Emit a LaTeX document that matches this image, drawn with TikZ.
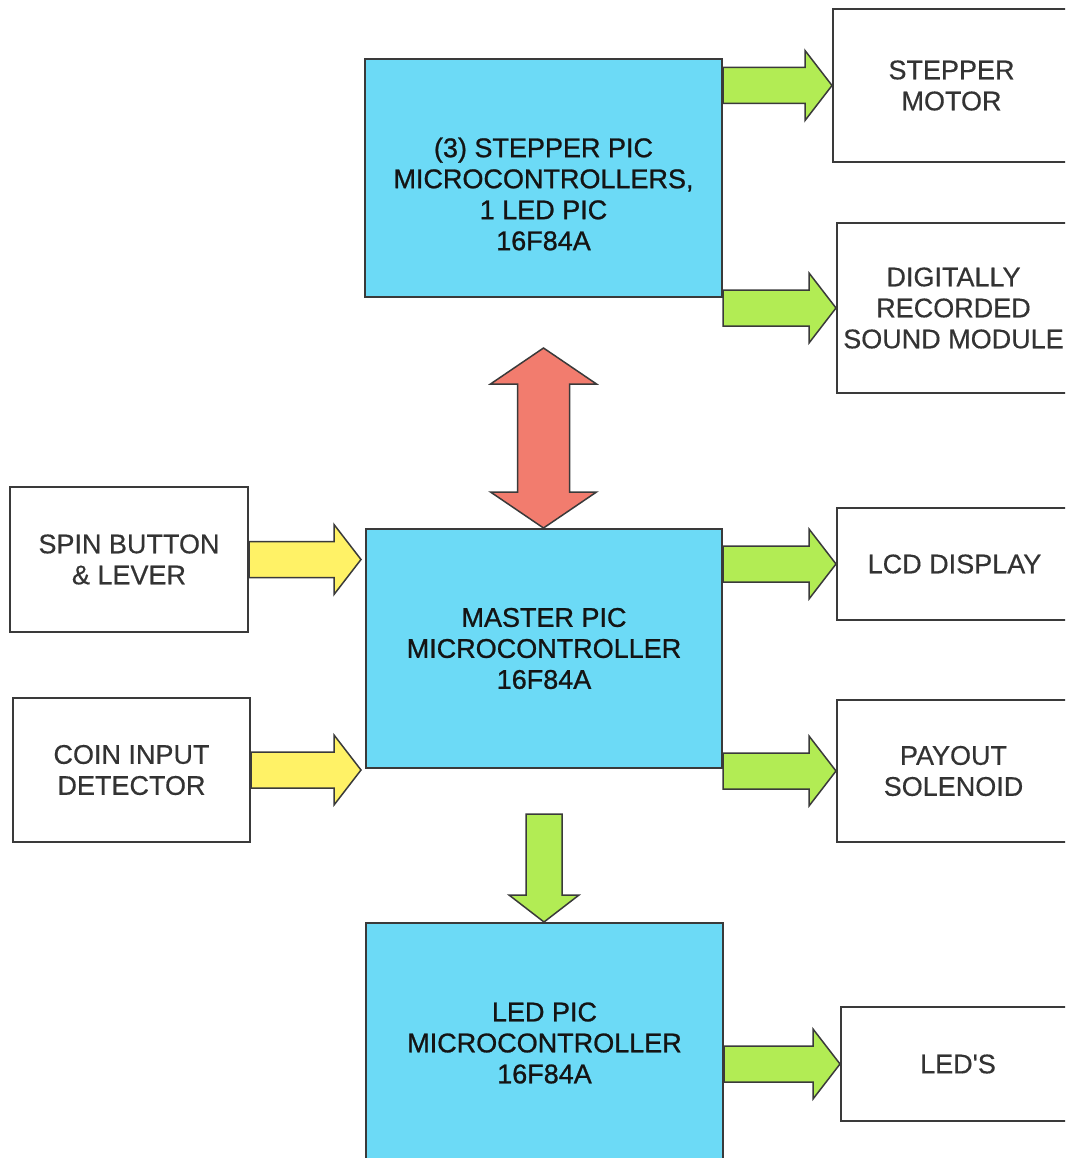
\documentclass[tikz,border=0pt]{standalone}
\usepackage{fontspec}
\setmainfont{Liberation Sans}
\newfontfamily\heavyfont{Liberation Sans}[FakeBold=0.9]
\newfontfamily\mediumfont{Liberation Sans}[FakeBold=0.4]
\usetikzlibrary{calc}

\definecolor{picblue}{RGB}{108,218,246}
\definecolor{fatgreen}{RGB}{178,236,84}
\definecolor{fatyellow}{RGB}{255,242,102}
\definecolor{fatred}{RGB}{242,124,110}
\definecolor{edgegray}{RGB}{58,58,58}

\tikzset{
  block/.style={draw=edgegray, line width=2pt, fill=white, align=center, inner sep=0pt,
    font=\mediumfont\fontsize{27}{31}\selectfont, text=black!80},
  picbox/.style={block, fill=picblue, text=black!92, font=\heavyfont\fontsize{27}{31}\selectfont},
  fat/.style={draw=edgegray, line width=1.5pt, line join=miter},
}

% block arrow pointing right, tip at #3
\newcommand{\fatright}[3]{%
  \draw[fat,#1] let \p1=(#2), \p2=(#3) in
    (\x1,\y1+18pt) -- (\x2-27pt,\y1+18pt) -- (\x2-27pt,\y1+35pt) -- (\x2,\y1)
    -- (\x2-27pt,\y1-35pt) -- (\x2-27pt,\y1-18pt) -- (\x1,\y1-18pt) -- cycle;}
% block arrow pointing down
\newcommand{\fatdown}[3]{%
  \draw[fat,#1] let \p1=(#2), \p2=(#3) in
    (\x1-18pt,\y1) -- (\x1+18pt,\y1) -- (\x1+18pt,\y2+27pt) -- (\x1+35pt,\y2+27pt) -- (\x1,\y2)
    -- (\x1-35pt,\y2+27pt) -- (\x1-18pt,\y2+27pt) -- cycle;}
% block arrow both ways, vertical
\newcommand{\fatboth}[3]{%
  \draw[fat,#1] let \p1=(#2), \p2=(#3) in
    (\x1,\y1) -- (\x1+53pt,\y1-36pt) -- (\x1+26pt,\y1-36pt) -- (\x1+26pt,\y2+36pt)
    -- (\x1+53pt,\y2+36pt) -- (\x1,\y2) -- (\x1-53pt,\y2+36pt) -- (\x1-26pt,\y2+36pt)
    -- (\x1-26pt,\y1-36pt) -- (\x1-53pt,\y1-36pt) -- cycle;}

\begin{document}
\begin{tikzpicture}[x=1pt, y=-1pt]
    \useasboundingbox (0,0) rectangle (1065,1158);
    \clip (0,0) rectangle (1065,1158);

    % PIC boxes
    \node[picbox, minimum width=357, minimum height=238] (stp) at (543.5,178) {};
    \node[font=\heavyfont\fontsize{27}{31}\selectfont, text=black!92, align=center] (stplabel)
        at ([yshift=-16pt]stp.center) {(3) STEPPER PIC\\MICROCONTROLLERS,\\1 LED PIC\\16F84A};
    \node[picbox, minimum width=356, minimum height=239] (master) at (544,648.5)
        {MASTER PIC\\MICROCONTROLLER\\16F84A};
    \node[picbox, minimum width=357, minimum height=240] (ledpic) at (544.5,1043)
        {LED PIC\\MICROCONTROLLER\\16F84A};

    % inputs
    \node[block, minimum width=238, minimum height=145] (spin) at (129,559.5) {SPIN BUTTON\\\& LEVER};
    \node[block, minimum width=237, minimum height=144] (coin) at (131.5,770) {COIN INPUT\\DETECTOR};

    % outputs
    \node[block, minimum width=237, minimum height=153] (motor) at (951.5,85.5) {STEPPER\\MOTOR};
    \node[block, minimum width=233, minimum height=170] (sound) at (953.5,308)
        {DIGITALLY\\RECORDED\\SOUND MODULE};
    \node[block, minimum width=235, minimum height=112] (lcd) at (954.5,564) {LCD DISPLAY};
    \node[block, minimum width=233, minimum height=142] (payout) at (953.5,771) {PAYOUT\\SOLENOID};
    \node[block, minimum width=234, minimum height=114] (leds) at (958,1064) {LED\textquotesingle S};

    % arrows
    \fatright{fill=fatgreen}{stp.east |- motor.west}{motor.west}
    \fatright{fill=fatgreen}{stp.east |- sound.west}{sound.west}
    \fatright{fill=fatgreen}{master.east |- lcd.west}{lcd.west}
    \fatright{fill=fatgreen}{master.east |- payout.west}{payout.west}
    \fatright{fill=fatgreen}{ledpic.east |- leds.west}{leds.west}
    \fatright{fill=fatyellow}{spin.east}{[xshift=-4pt]master.west |- spin.east}
    \fatright{fill=fatyellow}{coin.east}{[xshift=-4pt]master.west |- coin.east}
    \fatdown{fill=fatgreen}{[yshift=-45pt]master.south}{ledpic.north}
    \fatboth{fill=fatred}{[yshift=-50pt]stp.south}{master.north}
\end{tikzpicture}
\end{document}
